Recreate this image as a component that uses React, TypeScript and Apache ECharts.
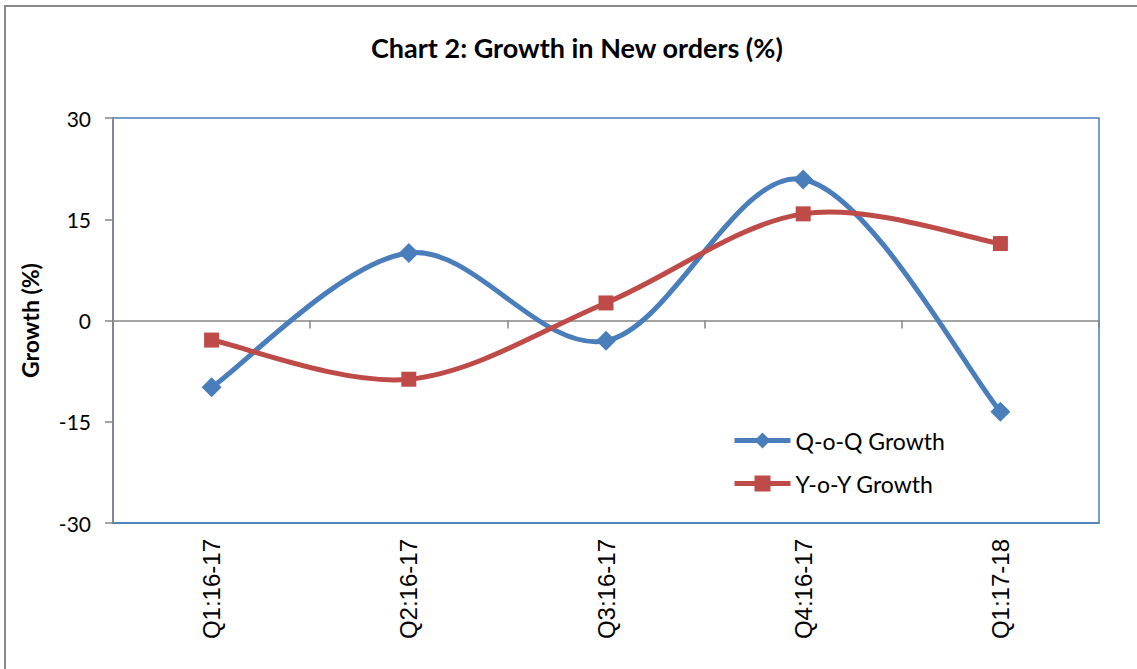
import React, { useEffect, useRef } from "react";
import * as echarts from "echarts";

const categories = ["Q1:16-17", "Q2:16-17", "Q3:16-17", "Q4:16-17", "Q1:17-18"];
const qoqGrowth = [-9.9, 10.0, -3.0, 20.9, -13.5];
const yoyGrowth = [-2.9, -8.7, 2.6, 15.8, 11.4];
const seriesNames = ["Q-o-Q Growth", "Y-o-Y Growth"];
const yMin = -30;
const yMax = 30;
const yInterval = 15;

const BLUE = "#4A7EBB";
const RED = "#BE4B48";
const GRAY = "#868686";
const FONT = "Lato, 'Open Sans', sans-serif";
const LINE_W = 5;

// Excel-like smooth curve (Catmull-Rom style bezier), drawn through the chart's own scale
function smoothRenderer(values: number[], color: string) {
  return (_params: any, api: any) => {
    const pts = values.map((v, i) => api.coord([i, v]));
    const n = pts.length;
    const P = (i: number) => pts[Math.max(0, Math.min(n - 1, i))];
    let d = `M${pts[0][0]},${pts[0][1]}`;
    for (let i = 0; i < n - 1; i++) {
      const p0 = P(i - 1), p1 = P(i), p2 = P(i + 1), p3 = P(i + 2);
      const c1x = p1[0] + (p2[0] - p0[0]) / 6;
      const c1y = p1[1] + (p2[1] - p0[1]) / 6;
      const c2x = p2[0] - (p3[0] - p1[0]) / 6;
      const c2y = p2[1] - (p3[1] - p1[1]) / 6;
      d += ` C${c1x},${c1y} ${c2x},${c2y} ${p2[0]},${p2[1]}`;
    }
    return {
      type: "path",
      shape: { pathData: d },
      style: { fill: "none", stroke: color, lineWidth: LINE_W, lineJoin: "round", lineCap: "round" },
      silent: true,
    };
  };
}

export default function App() {
  const ref = useRef<HTMLDivElement>(null);
  useEffect(() => {
    if (!ref.current) return;
    const chart = echarts.init(ref.current, null, { renderer: "svg" });
    chart.setOption({
      animation: false,
      backgroundColor: "#ffffff",
      title: {
        text: "Chart 2: Growth in New orders (%)",
        left: 366,
        top: 29,
        textStyle: { fontFamily: FONT, fontSize: 27, fontWeight: "bold", color: "#000" },
      },
      graphic: [
        {
          type: "rect",
          shape: { x: 5, y: 6, width: 1140, height: 680 },
          style: { fill: "none", stroke: "#898989", lineWidth: 2 },
          silent: true,
        },
      ],
      legend: {
        orient: "vertical",
        left: 732,
        top: 429,
        padding: 0,
        itemWidth: 56,
        itemHeight: 20,
        itemGap: 20,
        data: [
          { name: seriesNames[0], lineStyle: { color: BLUE, width: LINE_W, opacity: 1 } },
          { name: seriesNames[1], lineStyle: { color: RED, width: LINE_W, opacity: 1 } },
        ],
        textStyle: { fontFamily: FONT, fontSize: 23, color: "#000" },
      },
      grid: {
        left: 113,
        top: 118,
        width: 986,
        height: 405,
        show: true,
        borderColor: BLUE,
        borderWidth: 1.5,
        backgroundColor: "transparent",
        containLabel: false,
      },
      xAxis: [
        {
          type: "category",
          data: categories,
          position: "bottom",
          boundaryGap: true,
          axisLine: { show: true, onZero: false, lineStyle: { color: BLUE, width: 1.5 } },
          axisTick: { show: false },
          axisLabel: {
            rotate: 90,
            fontFamily: "Liberation Sans",
            fontSize: 24,
            color: "#000",
            margin: 16,
          },
          splitLine: { show: false },
        },
        {
          type: "category",
          data: categories,
          position: "bottom",
          boundaryGap: true,
          axisLine: { show: true, onZero: true, lineStyle: { color: GRAY, width: 1.5 } },
          axisTick: { show: true, length: 8, inside: false, lineStyle: { color: GRAY, width: 1.5 } },
          axisLabel: { show: false },
          splitLine: { show: false },
        },
      ],
      yAxis: {
        type: "value",
        min: yMin,
        max: yMax,
        interval: yInterval,
        name: "Growth (%)",
        nameLocation: "middle",
        nameGap: 72,
        nameTextStyle: { fontFamily: FONT, fontSize: 23, fontWeight: "bold", color: "#000" },
        axisLine: { show: true, lineStyle: { color: GRAY, width: 1.5 } },
        axisTick: { show: true, length: 8, lineStyle: { color: GRAY, width: 1.5 } },
        axisLabel: { fontFamily: FONT, fontSize: 21, color: "#000", margin: 22 },
        splitLine: { show: false },
      },
      series: [
        {
          name: "qoq-curve",
          type: "custom",
          coordinateSystem: "cartesian2d",
          xAxisIndex: 0,
          data: [0],
          renderItem: smoothRenderer(qoqGrowth, BLUE),
          z: 2,
        },
        {
          name: "yoy-curve",
          type: "custom",
          coordinateSystem: "cartesian2d",
          xAxisIndex: 0,
          data: [0],
          renderItem: smoothRenderer(yoyGrowth, RED),
          z: 2,
        },
        {
          name: seriesNames[0],
          type: "line",
          xAxisIndex: 0,
          data: qoqGrowth,
          symbol: "diamond",
          symbolSize: 20,
          itemStyle: { color: BLUE },
          lineStyle: { color: BLUE, width: LINE_W, opacity: 0 },
          z: 5,
        },
        {
          name: seriesNames[1],
          type: "line",
          xAxisIndex: 0,
          data: yoyGrowth,
          symbol: "rect",
          symbolSize: 15,
          itemStyle: { color: RED },
          lineStyle: { color: RED, width: LINE_W, opacity: 0 },
          z: 6,
        },
      ],
    });
    return () => chart.dispose();
  }, []);
  return (
    <div
      ref={ref}
      style={{ position: "fixed", left: 0, top: 0, width: 1137, height: 669, background: "#fff" }}
    />
  );
}
